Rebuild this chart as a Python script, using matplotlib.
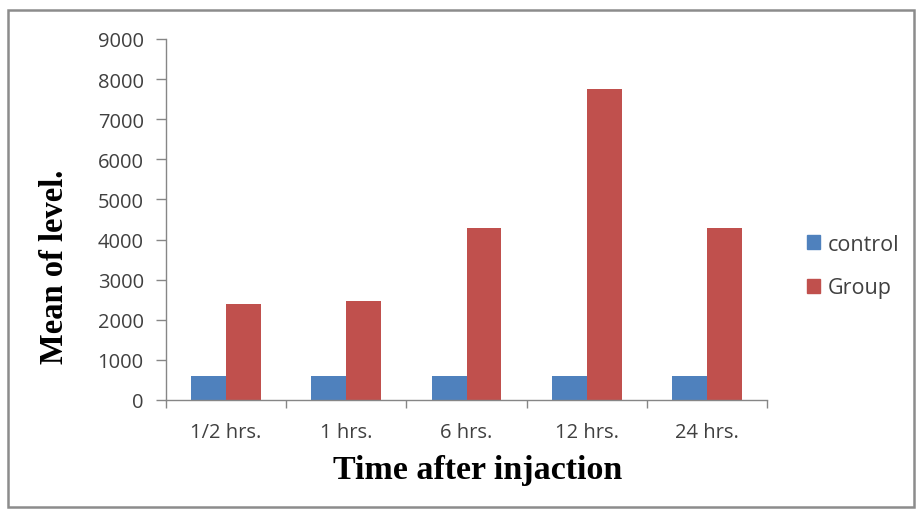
import matplotlib.pyplot as plt
import numpy as np
from matplotlib.patches import Patch, Rectangle

categories = ["1/2 hrs.", "1 hrs.", "6 hrs.", "12 hrs.", "24 hrs."]
control = [600, 600, 600, 600, 600]
group = [2400, 2480, 4280, 7750, 4300]
y_ticks = [0, 1000, 2000, 3000, 4000, 5000, 6000, 7000, 8000, 9000]

BLUE = "#4F81BD"
RED = "#C0504D"
AXIS_GREY = "#868686"
TEXT_GREY = "#404040"


def main() -> None:
    fig = plt.figure(figsize=(9.17, 5.10), dpi=100)
    fig.patch.set_facecolor("white")

    # outer chart border
    fig.patches.append(Rectangle((8 / 917, 2 / 510), 906 / 917, 497 / 510,
                                 transform=fig.transFigure, fill=False,
                                 edgecolor="#8c8c8c", linewidth=1.8))

    ax = fig.add_axes([166 / 917, 109 / 510, 601 / 917, 361 / 510])
    x = np.arange(len(categories))
    width = 0.29
    ax.bar(x - width / 2, control, width, color=BLUE, label="control")
    ax.bar(x + width / 2, group, width, color=RED, label="Group")

    ax.set_xlim(-0.5, len(categories) - 0.5)
    ax.set_ylim(0, 9000)
    ax.set_yticks(y_ticks)
    ax.set_xticks(x)
    ax.set_xticklabels(categories)
    # category separators as minor ticks below the axis
    ax.set_xticks(np.arange(-0.5, len(categories)), minor=True)
    ax.tick_params(axis="x", which="major", length=0, pad=16)
    ax.tick_params(axis="x", which="minor", length=6, color=AXIS_GREY, width=1)
    ax.tick_params(axis="y", length=7, color=AXIS_GREY, width=1, pad=9)

    for lbl in ax.get_xticklabels() + ax.get_yticklabels():
        lbl.set_fontfamily("Open Sans")
        lbl.set_fontsize(14.5)
        lbl.set_color(TEXT_GREY)

    for side in ("top", "right"):
        ax.spines[side].set_visible(False)
    for side in ("left", "bottom"):
        ax.spines[side].set_color(AXIS_GREY)
        ax.spines[side].set_linewidth(1)

    fig.text(55 / 917, 1 - 267 / 510, "Mean of level.", rotation=90,
             ha="center", va="center", fontfamily="Liberation Serif",
             fontweight="bold", fontsize=23.5)
    fig.text(478 / 917, 1 - 471 / 510, "Time after injaction",
             ha="center", va="center", fontfamily="Liberation Serif",
             fontweight="bold", fontsize=24.5)

    handles = [Patch(color=BLUE), Patch(color=RED)]
    leg = fig.legend(handles, ["control", "Group"], loc="center left",
                     bbox_to_anchor=(788 / 917, 1 - 267 / 510), frameon=False,
                     handlelength=0.6, handleheight=0.6, handletextpad=0.35,
                     labelspacing=1.05, prop={"family": "Open Sans", "size": 15.5})
    for t in leg.get_texts():
        t.set_color(TEXT_GREY)

    fig.savefig("out.png", dpi=100)
    plt.close(fig)


if __name__ == "__main__":
    main()
